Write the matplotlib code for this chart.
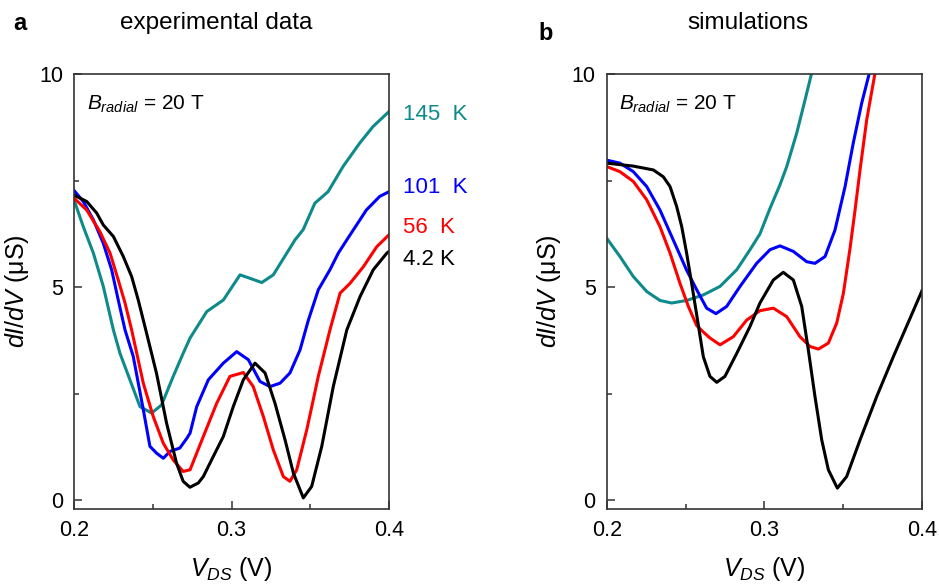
import matplotlib
matplotlib.use("Agg")
import matplotlib.pyplot as plt
from matplotlib.ticker import MultipleLocator, FormatStrFormatter

plt.rcParams['font.family'] = ['Liberation Sans', 'DejaVu Sans']
plt.rcParams['mathtext.fontset'] = 'custom'
plt.rcParams['mathtext.rm'] = 'Liberation Sans'
plt.rcParams['mathtext.it'] = 'Liberation Sans:italic'

teal = '#0e8a8a'

# ---- panel a: experimental data (V_DS in V, dI/dV in uS) ----
exp_145_x = [0.2, 0.2059, 0.2123, 0.2186, 0.2250, 0.2292, 0.2355, 0.2419, 0.2493, 0.2556, 0.263,
             0.2693, 0.2737, 0.2778, 0.2843, 0.2948, 0.3054, 0.3117, 0.3192, 0.3265, 0.3351,
             0.3403, 0.3455, 0.3529, 0.3613, 0.3708, 0.3814, 0.3899, 0.4]
exp_145_y = [7.05, 6.42, 5.80, 5.02, 4.00, 3.45, 2.83, 2.20, 2.05, 2.24, 2.91,
             3.45, 3.81, 4.05, 4.43, 4.70, 5.29, 5.21, 5.11, 5.29, 5.80,
             6.11, 6.35, 6.97, 7.24, 7.83, 8.38, 8.77, 9.12]

exp_101_x = [0.2, 0.2059, 0.2123, 0.2186, 0.2239, 0.2281, 0.2324, 0.2376, 0.244, 0.2482, 0.2524,
             0.2567, 0.2609, 0.2672, 0.2715, 0.2737, 0.2779, 0.2853, 0.2948, 0.3033, 0.3107,
             0.3181, 0.3244, 0.3308, 0.3371, 0.3435, 0.3488, 0.3551, 0.3625, 0.3678, 0.3732,
             0.3856, 0.3941, 0.4]
exp_101_y = [7.27, 7.01, 6.58, 6.03, 5.41, 4.70, 4.00, 3.38, 2.13, 1.27, 1.11,
             0.99, 1.15, 1.23, 1.45, 1.58, 2.20, 2.83, 3.22, 3.49, 3.30,
             2.79, 2.67, 2.75, 2.99, 3.53, 4.23, 4.94, 5.41, 5.80, 6.11,
             6.81, 7.13, 7.24]

exp_56_x = [0.2, 0.2081, 0.2165, 0.2229, 0.2281, 0.2324, 0.2366, 0.244, 0.2503, 0.2567, 0.263,
            0.2693, 0.2737, 0.2821, 0.2906, 0.299, 0.3075, 0.3138, 0.3202, 0.3265, 0.3329,
            0.3371, 0.3414, 0.3478, 0.3551, 0.3625, 0.3689, 0.3752, 0.3837, 0.3922, 0.4]
exp_56_y = [7.09, 6.81, 6.30, 5.80, 5.17, 4.63, 4.00, 2.75, 1.97, 1.34, 0.95,
            0.68, 0.72, 1.50, 2.28, 2.91, 3.00, 2.67, 1.97, 1.19, 0.56,
            0.45, 0.72, 1.66, 2.91, 4.00, 4.86, 5.09, 5.48, 5.95, 6.23]

exp_4_x = [0.2, 0.2081, 0.2144, 0.2186, 0.2250, 0.2313, 0.2366, 0.2408, 0.2461, 0.2524,
           0.2588, 0.2651, 0.2693, 0.2736, 0.2789, 0.2821, 0.2884, 0.2948, 0.3011, 0.3075,
           0.3149, 0.3213, 0.3276, 0.3340, 0.3393, 0.3456, 0.3509, 0.3573, 0.3646, 0.3732,
           0.3816, 0.3900, 0.3986, 0.4]
exp_4_y = [7.16, 7.01, 6.74, 6.46, 6.19, 5.72, 5.25, 4.70, 3.92, 2.98,
           1.81, 0.875, 0.45, 0.31, 0.41, 0.56, 1.03, 1.50, 2.20, 2.83,
           3.22, 2.99, 2.28, 1.42, 0.64, 0.06, 0.33, 1.27, 2.67, 4.00,
           4.78, 5.41, 5.80, 5.84]

# ---- panel b: simulations ----
sim_145_x = [0.2, 0.2084, 0.2169, 0.2254, 0.2338, 0.2412, 0.2507, 0.2613, 0.2719, 0.2825, 0.2909,
             0.2972, 0.3036, 0.3099, 0.3142, 0.3205, 0.3258, 0.3300, 0.332]
sim_145_y = [6.15, 5.72, 5.25, 4.90, 4.69, 4.63, 4.69, 4.82, 5.02, 5.41, 5.88,
             6.25, 6.85, 7.40, 7.83, 8.61, 9.39, 10.02, 10.3]

sim_101_x = [0.2, 0.2084, 0.2169, 0.2254, 0.2338, 0.2422, 0.2507, 0.2571, 0.2634, 0.2693, 0.2761,
             0.2846, 0.2951, 0.3036, 0.3099, 0.3184, 0.3268, 0.3321, 0.3385, 0.3448, 0.3512,
             0.3564, 0.3617, 0.3666, 0.368]
sim_101_y = [7.98, 7.91, 7.71, 7.36, 6.81, 6.11, 5.40, 4.94, 4.51, 4.38, 4.55,
             5.02, 5.56, 5.88, 5.97, 5.84, 5.60, 5.56, 5.72, 6.34, 7.36,
             8.38, 9.31, 10.02, 10.3]

sim_56_x = [0.2, 0.2084, 0.2169, 0.2254, 0.2338, 0.2402, 0.2465, 0.2518, 0.2571, 0.2613, 0.2655,
            0.2719, 0.2803, 0.2888, 0.2972, 0.3057, 0.3142, 0.3226, 0.3290, 0.3343, 0.3406,
            0.3459, 0.3501, 0.3543, 0.3575, 0.3607, 0.3649, 0.3702, 0.371]
sim_56_y = [7.83, 7.71, 7.48, 7.05, 6.42, 5.80, 5.09, 4.55, 4.10, 3.95, 3.81,
            3.65, 3.84, 4.23, 4.45, 4.51, 4.31, 3.84, 3.61, 3.55, 3.69,
            4.16, 4.85, 5.90, 6.80, 7.75, 8.92, 10.02, 10.3]

sim_4_x = [0.2, 0.2169, 0.2296, 0.2359, 0.2402, 0.2444, 0.2476, 0.2507, 0.2539, 0.2571, 0.2613,
           0.2655, 0.2698, 0.275, 0.2825, 0.2909, 0.2972, 0.3057, 0.312, 0.3184, 0.3237,
           0.3279, 0.3321, 0.3364, 0.3406, 0.3463, 0.3522, 0.3607, 0.3713, 0.3818, 0.3924,
           0.4]
sim_4_y = [7.91, 7.84, 7.75, 7.59, 7.36, 6.89, 6.42, 5.80, 5.09, 4.35, 3.37,
           2.91, 2.77, 2.91, 3.45, 4.08, 4.63, 5.17, 5.35, 5.17, 4.55,
           3.53, 2.44, 1.42, 0.72, 0.29, 0.56, 1.42, 2.44, 3.37, 4.27,
           4.92]

temp_labels = ['145  K', '101  K', '56  K', '4.2 K']
colors = [teal, 'blue', 'red', 'black']
label_y = [9.05, 7.35, 6.4, 5.65]

fig = plt.figure(figsize=(9.39, 5.84), dpi=100)
ax_a = fig.add_axes([0.0788, 0.1284, 0.3355, 0.7449])
ax_b = fig.add_axes([0.6461, 0.1284, 0.3358, 0.7449])

exp = [(exp_145_x, exp_145_y), (exp_101_x, exp_101_y), (exp_56_x, exp_56_y), (exp_4_x, exp_4_y)]
sim = [(sim_145_x, sim_145_y), (sim_101_x, sim_101_y), (sim_56_x, sim_56_y), (sim_4_x, sim_4_y)]

for (x, y), c in zip(exp, colors):
    ax_a.plot(x, y, color=c, lw=2.2, solid_joinstyle='round')
for (x, y), c in zip(sim, colors):
    ax_b.plot(x, y, color=c, lw=2.2, solid_joinstyle='round')

for ax in (ax_a, ax_b):
    ax.set_xlim(0.2, 0.4)
    ax.set_ylim(-0.2, 10)
    ax.xaxis.set_major_locator(MultipleLocator(0.1))
    ax.xaxis.set_minor_locator(MultipleLocator(0.05))
    ax.yaxis.set_major_locator(MultipleLocator(5))
    ax.yaxis.set_minor_locator(MultipleLocator(2.5))
    ax.xaxis.set_major_formatter(FormatStrFormatter('%.1f'))
    ax.yaxis.set_major_formatter(FormatStrFormatter('%d'))
    ax.tick_params(which='both', direction='in', labelsize=15.5, color='#333333')
    ax.tick_params(which='major', length=6, width=1.1, pad=8)
    ax.tick_params(which='minor', length=3.5, width=1.1)
    for s in ax.spines.values():
        s.set_linewidth(1.2)
        s.set_color('#333333')
    ax.set_xlabel(r'$V_{DS}$ (V)', fontsize=18, labelpad=10)
    ax.set_ylabel(r'$dI/dV$ (μS)', fontsize=18, labelpad=6)
    ax.text(0.04, 0.955, r'$B_{radial}$ = 20 T', transform=ax.transAxes,
            fontsize=15, va='top', ha='left')

for lab, c, yy in zip(temp_labels, colors, label_y):
    ax_a.text(1.045, yy, lab, color=c, fontsize=16, va='center', ha='left',
              transform=ax_a.get_yaxis_transform())

fig.text(13 / 939, 1 - 24 / 584, 'a', fontsize=17, fontweight='bold', va='center')
fig.text(216 / 939, 1 - 23 / 584, 'experimental data', fontsize=17.5, va='center', ha='center')
fig.text(538 / 939, 1 - 33 / 584, 'b', fontsize=17, fontweight='bold', va='center')
fig.text(748 / 939, 1 - 23 / 584, 'simulations', fontsize=17.5, va='center', ha='center')

fig.savefig('out.png', dpi=100)
